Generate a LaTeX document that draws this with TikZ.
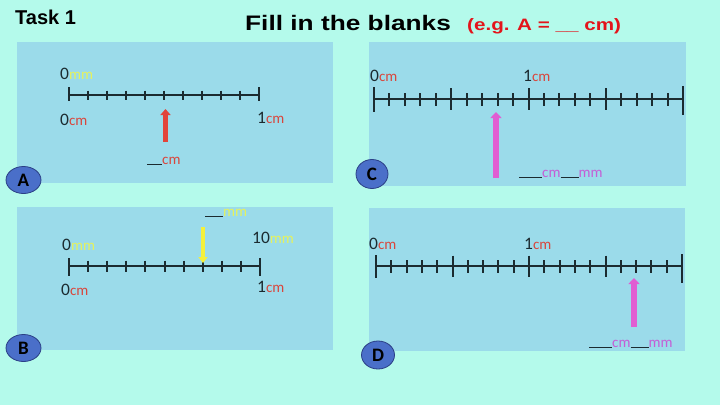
\documentclass[tikz,border=0pt]{standalone}
\usepackage{fontspec}
\setmainfont{Carlito}
\newfontfamily\headfont[FakeStretch=1.25]{Liberation Sans}
\newfontfamily\taskfont{Liberation Sans}
\usetikzlibrary{arrows.meta,shapes.geometric}

\definecolor{pagebg}{HTML}{B4FAEB}
\definecolor{panelbg}{HTML}{9BDBEA}
\definecolor{cmred}{HTML}{D9463C}
\definecolor{mmyel}{HTML}{E6F25C}
\definecolor{mmpink}{HTML}{C45ED6}
\definecolor{arrred}{HTML}{E2443A}
\definecolor{arryel}{HTML}{F4F03A}
\definecolor{arrpink}{HTML}{E05ED2}
\definecolor{titlered}{HTML}{E3141B}
\definecolor{ink}{HTML}{1B2B30}
\definecolor{badgefill}{HTML}{4A6FC9}
\definecolor{badgeline}{HTML}{2B3F86}

\newcommand{\rl}[3]{#1{\fontsize{15}{16}\selectfont\color{#3}#2}}
\newcommand{\gap}[1]{\textcolor{ink}{\rule[-1pt]{#1pt}{1.3pt}}}

\begin{document}
\begin{tikzpicture}[x=1pt,y=-1pt,
    panel/.style={fill=panelbg},
    rule/.style={draw=ink,line width=2pt},
    lab/.style={anchor=base west,inner sep=0pt,font=\fontsize{17.5}{18}\selectfont,text=ink},
    blank/.style={anchor=base west,inner sep=0pt,font=\fontsize{15}{16}\selectfont},
    badge/.style={ellipse,draw=badgeline,line width=0.8pt,fill=badgefill,minimum width=35pt,minimum height=27pt,inner sep=0pt,font=\bfseries\fontsize{19}{20}\selectfont},
    blockarrow/.style={line width=#1,-{Triangle[width=2*#1,length=6pt]}}]
        \fill[pagebg] (0,0) rectangle (720,405);

        \node[anchor=base west,inner sep=0pt,font=\taskfont\bfseries\fontsize{20}{22}\selectfont] (task) at (15,24) {Task 1};
        \node[anchor=base west,inner sep=0pt,font=\headfont\bfseries\fontsize{21}{24}\selectfont] (title) at (245,30.5) {Fill in the blanks};
        \node[anchor=base west,inner sep=0pt,text=titlered,font=\headfont\bfseries\fontsize{16.5}{18}\selectfont] (eg) at (467,30.5) {(e.g. A = \_\_ cm)};

        \fill[panel] (17,42) rectangle (333,183);
        \fill[panel] (17,207) rectangle (333,350);
        \fill[panel] (369,42) rectangle (686,186);
        \fill[panel] (369,208) rectangle (685,351);

        % ruler A
        \foreach \i in {0,...,10} \coordinate (a\i) at ({69+19*\i},95);
        \draw[rule] (a0) -- (a10);
        \foreach \i in {1,...,9} \draw[rule] ([yshift=4.5pt]a\i) -- ([yshift=-4.5pt]a\i);
        \foreach \i in {0,10} \draw[rule] ([yshift=8pt]a\i) -- ([yshift=-6pt]a\i);
        \node[lab] (a0mm) at (60,79) {\rl{0}{mm}{mmyel}};
        \node[lab] (a0cm) at (60,125) {\rl{0}{cm}{cmred}};
        \node[lab] (a1cm) at (257,123) {\rl{1}{cm}{cmred}};
        \coordinate (atail) at (165.5,142);
        \coordinate (atip) at (165.5,109);
        \draw[blockarrow=5pt,arrred] (atail) -- (atip);
        \node[blank] (ablank) at (147,164) {\gap{15}\textcolor{cmred}{cm}};
        \node[badge] (A) at (23.5,180) {A};

        % ruler B
        \foreach \i in {0,...,10} \coordinate (b\i) at ({69+19.1*\i},266);
        \draw[rule] (b0) -- (b10);
        \foreach \i in {1,...,9} \draw[rule] ([yshift=5.5pt]b\i) -- ([yshift=-5.5pt]b\i);
        \foreach \i in {0,10} \draw[rule] ([yshift=8pt]b\i) -- ([yshift=-10pt]b\i);
        \node[lab] (b0mm) at (62,250) {\rl{0}{mm}{mmyel}};
        \node[lab] (b10mm) at (252,243) {\rl{10}{mm}{mmyel}};
        \node[lab] (b0cm) at (61,295) {\rl{0}{cm}{cmred}};
        \node[lab] (b1cm) at (257,292) {\rl{1}{cm}{cmred}};
        \coordinate (btail) at (203,227);
        \coordinate (btip) at (203,263);
        \draw[blockarrow=4.5pt,arryel] (btail) -- (btip);
        \node[blank] (bblank) at (205,216) {\gap{18}\textcolor{mmyel}{mm}};
        \node[badge] (B) at (23.5,348) {B};

        % ruler C
        \foreach \i in {0,...,20} \coordinate (c\i) at ({374+15.45*\i},99);
        \draw[rule] (c0) -- (c20);
        \foreach \i in {1,...,19} \draw[rule] ([yshift=6pt]c\i) -- ([yshift=-6.5pt]c\i);
        \foreach \i in {5,10,15} \draw[rule] ([yshift=11pt]c\i) -- ([yshift=-11pt]c\i);
        \draw[rule] ([yshift=12pt]c0) -- ([yshift=-13pt]c0);
        \draw[rule] ([yshift=13pt]c20) -- ([yshift=-16pt]c20);
        \node[lab] (c0cm) at (370,81) {\rl{0}{cm}{cmred}};
        \node[lab] (c1cm) at (523,81) {\rl{1}{cm}{cmred}};
        \coordinate (ctail) at (496,178);
        \coordinate (ctip) at (496,112);
        \draw[blockarrow=5.5pt,arrpink] (ctail) -- (ctip);
        \node[blank] (cblank) at (519,177) {\gap{23}\textcolor{mmpink}{cm}\gap{18}\textcolor{mmpink}{mm}};
        \node[badge,minimum width=32pt,minimum height=29pt] (C) at (372,174) {C};

        % ruler D
        \foreach \i in {0,...,20} \coordinate (d\i) at ({376+15.3*\i},266);
        \draw[rule] (d0) -- (d20);
        \foreach \i in {1,...,19} \draw[rule] ([yshift=6pt]d\i) -- ([yshift=-7pt]d\i);
        \foreach \i in {5,10,15} \draw[rule] ([yshift=10.5pt]d\i) -- ([yshift=-11pt]d\i);
        \draw[rule] ([yshift=11pt]d0) -- ([yshift=-12pt]d0);
        \draw[rule] ([yshift=12pt]d20) -- ([yshift=-17pt]d20);
        \node[lab] (d0cm) at (369,249) {\rl{0}{cm}{cmred}};
        \node[lab] (d1cm) at (524,249) {\rl{1}{cm}{cmred}};
        \coordinate (dtail) at (634,327);
        \coordinate (dtip) at (634,278);
        \draw[blockarrow=5.5pt,arrpink] (dtail) -- (dtip);
        \node[blank] (dblank) at (589,347) {\gap{23}\textcolor{mmpink}{cm}\gap{18}\textcolor{mmpink}{mm}};
        \node[badge,minimum width=33pt,minimum height=28pt] (D) at (378,355) {D};
\end{tikzpicture}
\end{document}
